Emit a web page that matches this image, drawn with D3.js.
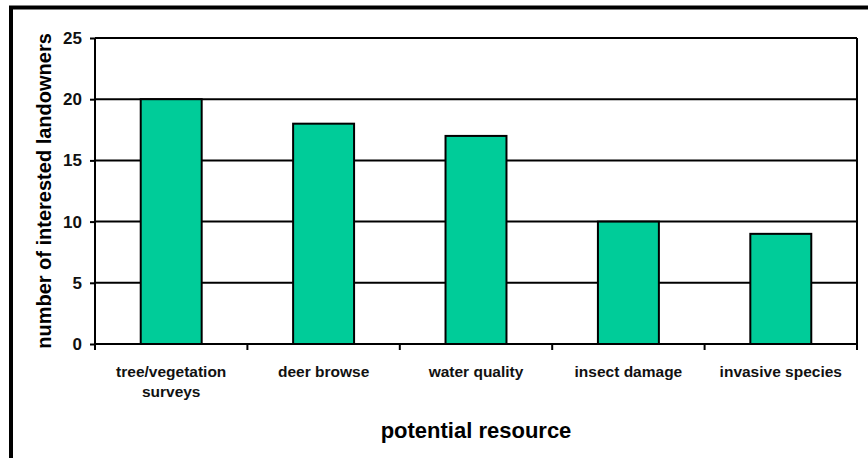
<!DOCTYPE html>
<html>
<head>
<meta charset="utf-8">
<script src="https://cdn.jsdelivr.net/npm/d3@7"></script>
<style>
  body { margin: 0; background: #fff; }
  svg { display: block; font-family: "Liberation Sans", Arial, sans-serif; font-weight: bold; }
</style>
</head>
<body>
<svg id="chart" width="868" height="458"></svg>
<script>
// chart data
const categories = ["tree/vegetation surveys", "deer browse", "water quality", "insect damage", "invasive species"];
const landowners = [20, 18, 17, 10, 9];
const yTicks = [0, 5, 10, 15, 20, 25];

const svg = d3.select("#chart");
const width = 868, height = 458;
const margin = { top: 38, right: 11, bottom: 114, left: 95 };

// outer frame (only top and left edges are visible in the picture)
svg.append("line").attr("x1", 9).attr("x2", width).attr("y1", 7.5).attr("y2", 7.5)
    .attr("stroke", "#000").attr("stroke-width", 4);
svg.append("line").attr("x1", 11).attr("x2", 11).attr("y1", 6).attr("y2", height)
    .attr("stroke", "#000").attr("stroke-width", 4);

const x = d3.scaleBand()
    .domain(categories)
    .range([margin.left, width - margin.right])
    .paddingInner(0.6)
    .paddingOuter(0.3);

const y = d3.scaleLinear()
    .domain([0, 25])
    .range([height - margin.bottom, margin.top]);

// gridlines
svg.append("g")
    .selectAll("line")
    .data(yTicks.filter(d => d > 0))
    .enter().append("line")
    .attr("x1", margin.left)
    .attr("x2", width - margin.right)
    .attr("y1", d => y(d))
    .attr("y2", d => y(d))
    .attr("stroke", "#000")
    .attr("stroke-width", 2);

// right edge of plot area
svg.append("line")
    .attr("x1", width - margin.right).attr("x2", width - margin.right)
    .attr("y1", y(25)).attr("y2", y(0))
    .attr("stroke", "#000").attr("stroke-width", 2);

// bars
svg.append("g")
    .selectAll("rect")
    .data(landowners)
    .enter().append("rect")
    .attr("x", (d, i) => x(categories[i]))
    .attr("y", d => y(d))
    .attr("width", x.bandwidth())
    .attr("height", d => y(0) - y(d))
    .attr("fill", "#00CC99")
    .attr("stroke", "#000")
    .attr("stroke-width", 2);

// y axis
const yAxis = d3.axisLeft(y).tickValues(yTicks).tickSize(5).tickPadding(8);
const gy = svg.append("g")
    .attr("transform", `translate(${margin.left},0)`)
    .call(yAxis);
gy.select(".domain").attr("stroke-width", 2).attr("d", `M0,${y(25)}V${y(0)}`);
gy.selectAll(".tick line").attr("stroke-width", 2);
gy.selectAll(".tick text").attr("font-size", 17).attr("font-weight", "bold")
    .attr("fill", "#111")
    .attr("font-family", "Liberation Sans, Arial, sans-serif");

// x axis: ticks sit on category boundaries
const gx = svg.append("g")
    .attr("transform", `translate(0,${y(0)})`);
gx.append("line")
    .attr("x1", margin.left).attr("x2", width - margin.right)
    .attr("stroke", "#000").attr("stroke-width", 2);
const step = (width - margin.right - margin.left) / categories.length;
gx.selectAll(".xtick")
    .data(d3.range(categories.length + 1))
    .enter().append("line")
    .attr("x1", i => margin.left + i * step)
    .attr("x2", i => margin.left + i * step)
    .attr("y1", 0).attr("y2", 6)
    .attr("stroke", "#000").attr("stroke-width", 2);

// category labels (wrapped)
const labelLines = {
    "tree/vegetation surveys": ["tree/vegetation", "surveys"]
};
gx.selectAll(".xlabel")
    .data(categories)
    .enter().append("text")
    .attr("text-anchor", "middle")
    .attr("font-size", 15.5)
    .attr("fill", "#111")
    .each(function (c) {
        const lines = labelLines[c] || [c];
        const t = d3.select(this);
        lines.forEach((ln, k) => {
            t.append("tspan")
                .attr("x", x(c) + x.bandwidth() / 2)
                .attr("y", 33 + k * 20)
                .text(ln);
        });
    });

// axis titles
svg.append("text")
    .attr("transform", `translate(51,${(y(0) + y(25)) / 2}) rotate(-90)`)
    .attr("text-anchor", "middle")
    .attr("font-size", 20)
    .attr("fill", "#000")
    .text("number of interested landowners");

svg.append("text")
    .attr("x", (margin.left + width - margin.right) / 2)
    .attr("y", 438)
    .attr("text-anchor", "middle")
    .attr("font-size", 22)
    .attr("fill", "#000")
    .text("potential resource");
</script>
</body>
</html>
